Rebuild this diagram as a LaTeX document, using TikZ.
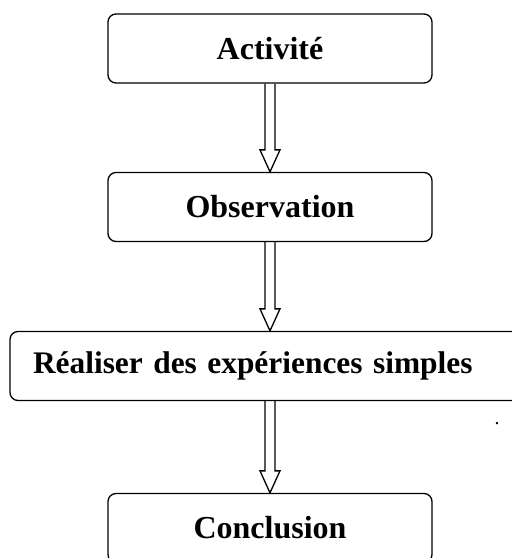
\documentclass[tikz,border=0pt]{standalone}
\usepackage{fontspec}
\setmainfont{Liberation Serif}
\usetikzlibrary{calc}

\newcommand{\fleche}[2]{%
  \draw[fleche] ($(#1.south)+(-5,0)$) -- ($(#2.north)+(-5,-22)$) -- ($(#2.north)+(-10,-22)$)
    -- (#2.north) -- ($(#2.north)+(10,-22)$) -- ($(#2.north)+(5,-22)$) -- ($(#1.south)+(5,0)$);}

\begin{document}
\begin{tikzpicture}[x=1pt,y=-1pt,
    etape/.style={draw,rectangle,rounded corners=8pt,line width=1.3pt,minimum width=324pt,
      minimum height=69pt,inner sep=0pt,font=\fontsize{32}{38}\selectfont\bfseries},
    fleche/.style={line width=1.3pt,line join=miter}]
        \clip (0,0) rectangle (512,558);

        %les etapes
        \node[etape] (act) at (270,48.5) {Activité};
        \node[etape] (obs) at (270,207) {Observation};
        \node[etape,text width=474pt,inner xsep=23pt,align=left,
          font=\fontsize{31.4}{38}\selectfont\bfseries] (real) at (270,366) {Réaliser des expériences simples};
        \node[etape] (concl) at (270,528) {Conclusion};
        \node[font=\fontsize{20}{24}\selectfont] (pt) at (497,424) {.};

        %les fleches
        \fleche{act}{obs}
        \fleche{obs}{real}
        \fleche{real}{concl}

\end{tikzpicture}
\end{document}
